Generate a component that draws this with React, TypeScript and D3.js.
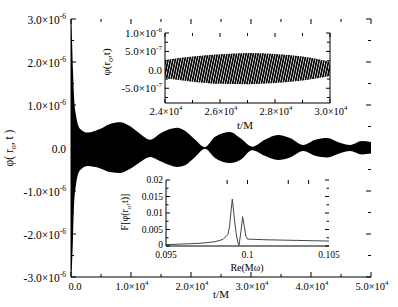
import React from 'react';
import * as d3 from 'd3';

const FONT = "'Liberation Serif', 'Times New Roman', serif";

// main panel: envelope of phi(r_o, t)
const TIME = [0, 170, 330, 500, 830, 1500, 2800, 4800, 6500, 8200, 9800, 11500, 13200, 14800, 16500, 17700, 19000, 20700, 22300, 24000, 26500, 28200, 30200, 32300, 34500, 36500, 38700, 40700, 42700, 44800, 46500, 48500, 50000];
const UPPER = [3.0, 2.5, 1.8, 1.2, 0.77, 0.45, 0.36, 0.44, 0.56, 0.6, 0.51, 0.33, 0.19, 0.33, 0.44, 0.47, 0.4, 0.19, 0.02, 0.26, 0.37, 0.23, 0.03, 0.19, 0.3, 0.23, 0.07, 0.19, 0.23, 0.12, 0.07, 0.16, 0.14];
const LOWER = [-3.0, -2.7, -2.1, -1.33, -0.86, -0.52, -0.42, -0.47, -0.56, -0.58, -0.49, -0.33, -0.21, -0.3, -0.4, -0.44, -0.4, -0.21, -0.02, -0.23, -0.35, -0.28, -0.05, -0.18, -0.28, -0.22, -0.07, -0.18, -0.22, -0.12, -0.07, -0.15, -0.13];

const MAIN_X_TICKS = [0, 1e4, 2e4, 3e4, 4e4, 5e4];
const MAIN_X_LABELS = ['0.0', '1.0×10^4', '2.0×10^4', '3.0×10^4', '4.0×10^4', '5.0×10^4'];
const MAIN_Y_TICKS = [-3e-6, -2e-6, -1e-6, 0, 1e-6, 2e-6, 3e-6];
const MAIN_Y_LABELS = ['-3.0×10^-6', '-2.0×10^-6', '-1.0×10^-6', '0.0', '1.0×10^-6', '2.0×10^-6', '3.0×10^-6'];

// upper inset: zoom on 2.4e4 .. 3e4
const ZOOM_T = [24000, 25000, 26000, 27000, 28000, 29000, 30000];
const ZOOM_UP = [0.27, 0.36, 0.42, 0.46, 0.43, 0.36, 0.22];
const ZOOM_LO = [-0.23, -0.32, -0.38, -0.39, -0.36, -0.29, -0.17];
const ZOOM_X_TICKS = [24000, 26000, 28000, 30000];
const ZOOM_X_LABELS = ['2.4×10^4', '2.6×10^4', '2.8×10^4', '3.0×10^4'];
const ZOOM_Y_TICKS = [-5e-7, 0, 5e-7, 1e-6];
const ZOOM_Y_LABELS = ['-5.0×10^-7', '0.0', '5.0×10^-7', '1.0×10^-6'];

// lower inset: spectrum
const OMEGA = [0.095, 0.096, 0.097, 0.0975, 0.098, 0.0985, 0.0988, 0.0989, 0.099, 0.09907, 0.0992, 0.0993, 0.0994, 0.09948, 0.0996, 0.0997, 0.0998, 0.0999, 0.1, 0.101, 0.102, 0.103, 0.104, 0.105];
const SPEC = [0.0004, 0.0006, 0.0008, 0.001, 0.0013, 0.002, 0.0035, 0.006, 0.011, 0.0142, 0.008, 0.004, 0.0012, 0.0002, 0.0045, 0.0089, 0.006, 0.003, 0.0021, 0.0019, 0.0018, 0.0017, 0.0016, 0.0015];
const SPEC_X_TICKS = [0.095, 0.1, 0.105];
const SPEC_X_LABELS = ['0.095', '0.1', '0.105'];
const SPEC_TOP_TICKS = [0.09875, 0.1, 0.1025, 0.10375];
const SPEC_Y_TICKS = [0, 0.005, 0.01, 0.015, 0.02];
const SPEC_Y_LABELS = ['0', '0.005', '0.01', '0.015', '0.02'];

function Label({ text, x, y, anchor, size }: { text: string; x: number; y: number; anchor: string; size: number }) {
  const [base, exp] = text.split('^');
  return (
    <text x={x} y={y} textAnchor={anchor} fontSize={size} fontFamily={FONT}>
      {base}
      {exp !== undefined && (
        <tspan dy={-5} fontSize={size * 0.65}>{exp}</tspan>
      )}
    </text>
  );
}

function range(a: number, b: number, step: number) {
  return d3.range(a, b + step / 2, step);
}

export default function App() {
  const x = d3.scaleLinear().domain([0, 5e4]).range([71, 371]);
  const y = d3.scaleLinear().domain([-3e-6, 3e-6]).range([277, 19]);

  const env = TIME.map((t, i) => ({ t, hi: UPPER[i] * 1e-6, lo: LOWER[i] * 1e-6 }));
  const area = d3.area<any>()
    .x(d => x(d.t))
    .y0(d => y(d.lo))
    .y1(d => y(d.hi))
    .curve(d3.curveMonotoneX);

  // inset 1
  const zx = d3.scaleLinear().domain([24000, 30000]).range([165, 330]);
  const zy = d3.scaleLinear().domain([-0.9e-6, 1e-6]).range([103, 33]);
  const zenv = ZOOM_T.map((t, i) => ({ t, hi: ZOOM_UP[i] * 1e-6, lo: ZOOM_LO[i] * 1e-6 }));
  const zarea = d3.area<any>()
    .x(d => zx(d.t))
    .y0(d => zy(d.lo))
    .y1(d => zy(d.hi))
    .curve(d3.curveMonotoneX);

  // inset 2
  const sx = d3.scaleLinear().domain([0.095, 0.105]).range([166, 329]);
  const sy = d3.scaleLinear().domain([0, 0.02]).range([246, 180]);
  const specLine = d3.line<number>()
    .x((d, i) => sx(OMEGA[i]))
    .y(d => sy(d));

  const tk = { stroke: '#000', strokeWidth: 1 };
  const [mx0, mx1] = x.range();
  const [my0, my1] = y.range();
  const [zx0, zx1] = zx.range();
  const [zy0, zy1] = zy.range();
  const [sx0, sx1] = sx.range();
  const [sy0, sy1] = sy.range();

  return (
    <svg width={398} height={307} style={{ position: 'absolute', left: 0, top: 0, display: 'block', background: '#fff' }}>
      <defs>
        <pattern id="osc" width={2.4} height={6} patternUnits="userSpaceOnUse" patternTransform="skewX(-12)">
          <rect width={2.4} height={6} fill="#fff" />
          <rect width={1.7} height={6} fill="#000" />
        </pattern>
      </defs>

      {/* main panel */}
      <path d={area(env) || ''} fill="#000" />
      <line x1={mx0} x2={mx0} y1={my1} y2={my0} {...tk} />
      <line x1={mx0} x2={mx1} y1={my0} y2={my0} {...tk} />
      {range(0, 5e4, 5000).map((v, i) => {
        const len = i % 2 === 0 ? 5 : 3;
        return (
          <g key={'mx' + i}>
            <line x1={x(v)} x2={x(v)} y1={my0} y2={my0 - len} {...tk} />
            <line x1={x(v)} x2={x(v)} y1={my1} y2={my1 + len} {...tk} />
          </g>
        );
      })}
      {range(-3e-6, 3e-6, 0.5e-6).map((v, i) => {
        const len = i % 2 === 0 ? 5 : 3;
        return (
          <g key={'my' + i}>
            <line x1={mx0} x2={mx0 + len} y1={y(v)} y2={y(v)} {...tk} />
            <line x1={mx1} x2={mx1 - len} y1={y(v)} y2={y(v)} {...tk} />
          </g>
        );
      })}
      {MAIN_Y_TICKS.map((v, i) => (
        <Label key={'myl' + i} text={MAIN_Y_LABELS[i]} x={mx0 - 5} y={y(v) + 5} anchor="end" size={11.5} />
      ))}
      {MAIN_X_TICKS.map((v, i) => (
        <Label key={'mxl' + i} text={MAIN_X_LABELS[i]} x={x(v) + (v === 0 ? 4 : 1)} y={290} anchor="middle" size={10.5} />
      ))}
      <text x={221} y={298} textAnchor="middle" fontSize={11} fontFamily={FONT}>t/M</text>
      <text transform="translate(13,148) rotate(-90)" textAnchor="middle" fontSize={11.5} fontFamily={FONT}>
        φ( r<tspan dy={3} fontSize={8}>o</tspan><tspan dy={-3}>, t )</tspan>
      </text>

      {/* inset 1 */}
      <rect x={zx0} y={zy1} width={zx1 - zx0} height={zy0 - zy1} fill="#fff" />
      <path d={zarea(zenv) || ''} fill="url(#osc)" />
      <line x1={zx0} x2={zx0} y1={zy1} y2={zy0} {...tk} />
      <line x1={zx1} x2={zx1} y1={zy1} y2={zy0} {...tk} />
      <line x1={zx0} x2={zx1} y1={zy0} y2={zy0} {...tk} />
      {range(24000, 30000, 1000).map((v, i) => {
        const len = i % 2 === 0 ? 4 : 3;
        return (
          <g key={'zx' + i}>
            <line x1={zx(v)} x2={zx(v)} y1={zy0} y2={zy0 - len} {...tk} />
            <line x1={zx(v)} x2={zx(v)} y1={zy1} y2={zy1 + len} {...tk} />
          </g>
        );
      })}
      {range(-0.75e-6, 1e-6, 0.25e-6).map((v, i) => {
        const len = i % 2 === 1 ? 4 : 3;
        return (
          <g key={'zy' + i}>
            <line x1={zx0} x2={zx0 + len} y1={zy(v)} y2={zy(v)} {...tk} />
            <line x1={zx1} x2={zx1 - len} y1={zy(v)} y2={zy(v)} {...tk} />
          </g>
        );
      })}
      {ZOOM_Y_TICKS.map((v, i) => (
        <Label key={'zyl' + i} text={ZOOM_Y_LABELS[i]} x={zx0 - 3} y={zy(v) + 4} anchor="end" size={11} />
      ))}
      {ZOOM_X_TICKS.map((v, i) => (
        <Label key={'zxl' + i} text={ZOOM_X_LABELS[i]} x={zx(v) + 1} y={115} anchor="middle" size={10.5} />
      ))}
      <text x={245} y={129} textAnchor="middle" fontSize={11} fontFamily={FONT}>t/M</text>
      <text transform="translate(110,62) rotate(-90)" textAnchor="middle" fontSize={11} fontFamily={FONT}>
        φ(r<tspan dy={3} fontSize={8}>o</tspan><tspan dy={-3}>,t)</tspan>
      </text>

      {/* inset 2 */}
      <path d={specLine(SPEC) || ''} fill="none" stroke="#444" strokeWidth={1} />
      <line x1={sx0} x2={sx0} y1={sy1} y2={sy0} {...tk} />
      <line x1={sx0} x2={sx1} y1={sy0} y2={sy0} {...tk} />
      {SPEC_TOP_TICKS.map((v, i) => (
        <line key={'st' + i} x1={sx(v)} x2={sx(v)} y1={sy1} y2={sy1 + 4} {...tk} />
      ))}
      {range(0, 0.02, 0.0025).map((v, i) => {
        const len = i % 2 === 0 ? 4 : 2.5;
        return (
          <g key={'sy' + i}>
            <line x1={sx0} x2={sx0 + len} y1={sy(v)} y2={sy(v)} {...tk} />
            <line x1={sx1} x2={sx1 - len} y1={sy(v)} y2={sy(v)} {...tk} />
          </g>
        );
      })}
      {SPEC_Y_TICKS.map((v, i) => (
        <text key={'syl' + i} x={sx0 - 3} y={sy(v) + (v === 0 ? 1.5 : 3)} textAnchor="end" fontSize={9.5} fontFamily={FONT}>{SPEC_Y_LABELS[i]}</text>
      ))}
      {SPEC_X_TICKS.map((v, i) => (
        <text key={'sxl' + i} x={sx(v)} y={258} textAnchor="middle" fontSize={9.5} fontFamily={FONT}>{SPEC_X_LABELS[i]}</text>
      ))}
      <text x={247} y={271} textAnchor="middle" fontSize={10} fontFamily={FONT}>Re(Mω)</text>
      <text transform="translate(128,212) rotate(-90)" textAnchor="middle" fontSize={10} fontFamily={FONT}>
        F[φ(r<tspan dy={3} fontSize={7}>o</tspan><tspan dy={-3}>,t)]</tspan>
      </text>
    </svg>
  );
}
